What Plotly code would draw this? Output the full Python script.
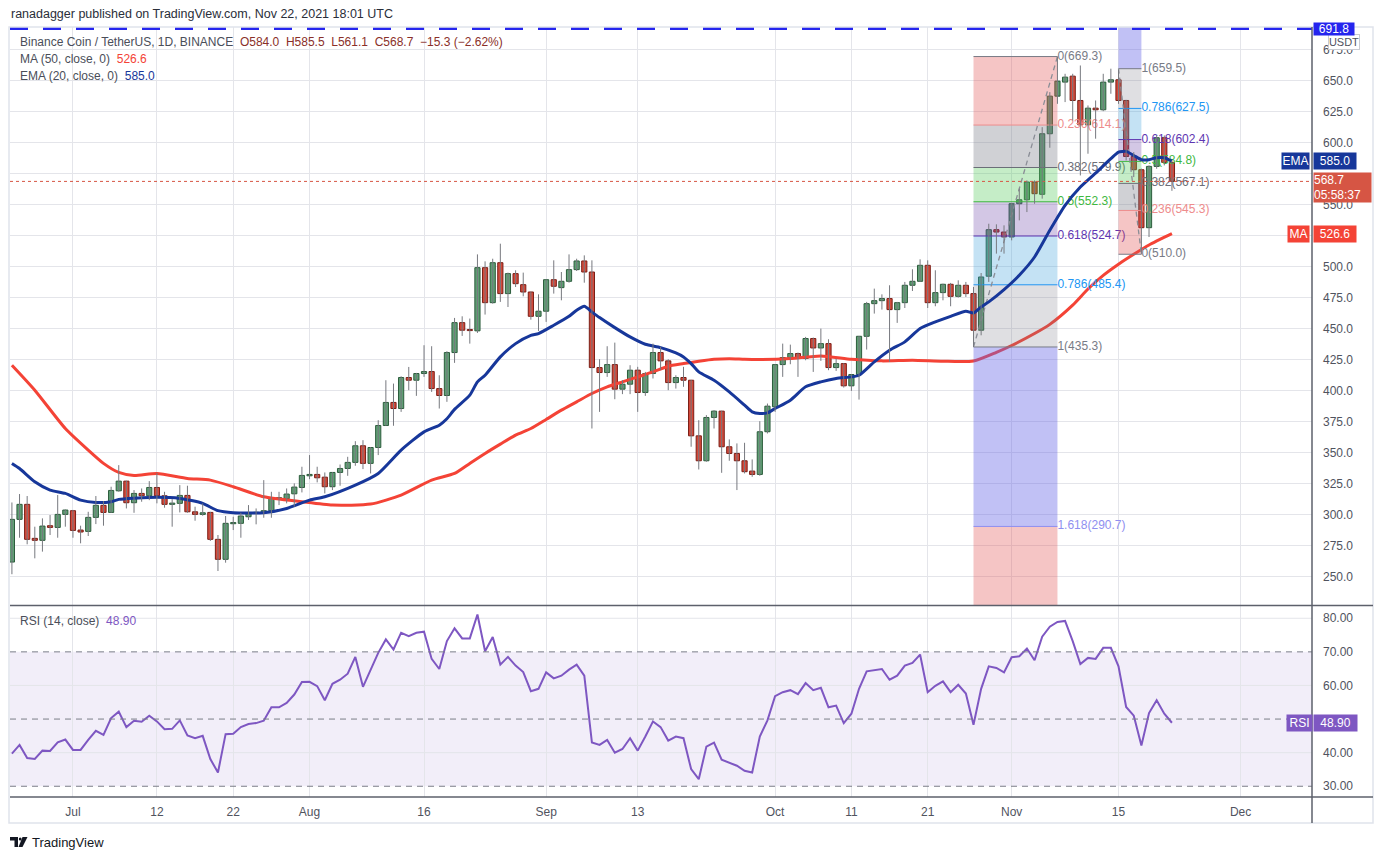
import pandas as pd
import plotly.graph_objects as go

# BNB/USDT daily candles, 23 Jun - 22 Nov 2021
dates = pd.date_range("2021-06-23", "2021-11-22", freq="D")

opens = [
    262.0, 296.4, 308.5, 281.1, 279.5, 291.3, 289.9, 300.4, 303.4, 287.8,
    286.7, 298.0, 307.7, 302.0, 319.4, 327.2, 309.8, 317.3, 315.4, 322.1,
    315.4, 308.5, 309.3, 315.7, 302.5, 300.4, 302.0, 280.3, 264.2, 292.9,
    293.2, 298.5, 301.2, 301.7, 303.4, 313.0, 313.0, 317.0, 322.1, 331.5,
    332.6, 330.4, 322.7, 334.2, 337.4, 342.3, 355.7, 341.5, 354.3, 372.0,
    390.6, 385.7, 410.7, 408.5, 413.9, 415.5, 401.8, 396.2, 430.8, 454.9,
    448.8, 448.3, 499.2, 471.0, 503.2, 478.3, 494.4, 485.5, 479.6, 460.0,
    464.1, 489.5, 483.1, 488.2, 497.6, 504.6, 495.7, 418.7, 414.7, 421.1,
    401.3, 405.3, 416.6, 398.6, 413.9, 430.8, 424.1, 406.6, 410.7, 408.5,
    363.7, 343.6, 378.5, 383.6, 354.9, 349.5, 343.6, 335.3, 332.6, 367.0,
    387.1, 421.1, 426.8, 430.0, 426.0, 442.1, 434.5, 438.0, 418.7, 421.9,
    404.0, 413.1, 443.9, 470.2, 472.6, 474.3, 465.4, 471.0, 485.0, 488.2,
    501.1, 471.0, 479.1, 485.8, 476.1, 485.0, 478.3, 448.8, 492.3, 529.8,
    527.9, 523.9, 550.7, 553.9, 568.2, 558.3, 607.1, 637.4, 648.7, 653.5,
    633.9, 614.3, 627.7, 626.4, 648.7, 650.6, 633.9, 588.8, 578.1, 531.4,
    580.8, 603.9, 584.0,
]
highs = [
    310.0, 316.8, 315.2, 290.5, 297.2, 299.9, 316.0, 304.4, 304.0, 291.3,
    302.5, 315.2, 311.1, 322.7, 340.1, 327.5, 320.0, 321.3, 327.2, 333.9,
    318.6, 312.7, 324.0, 323.5, 306.6, 309.3, 302.5, 283.8, 299.1, 298.5,
    301.7, 307.9, 305.2, 328.0, 318.6, 318.6, 321.3, 325.4, 338.8, 348.2,
    338.8, 334.2, 334.5, 340.6, 346.8, 359.4, 360.2, 354.6, 376.3, 408.5,
    405.8, 411.7, 419.2, 414.4, 436.7, 435.9, 412.5, 431.9, 458.7, 460.0,
    458.2, 509.9, 504.3, 506.4, 518.5, 495.2, 497.1, 495.2, 479.9, 477.7,
    489.8, 505.1, 495.7, 509.9, 506.4, 509.1, 505.1, 425.4, 435.9, 438.8,
    408.5, 420.6, 419.3, 415.2, 438.0, 435.4, 425.4, 412.5, 419.3, 408.8,
    376.3, 380.4, 384.4, 383.9, 360.8, 357.6, 358.1, 344.7, 375.5, 389.7,
    421.4, 438.0, 437.2, 430.8, 443.4, 442.9, 450.1, 441.5, 425.9, 422.2,
    413.4, 444.2, 471.6, 482.3, 477.7, 485.0, 471.6, 487.7, 497.9, 505.9,
    505.1, 497.1, 486.3, 486.9, 489.0, 487.7, 483.7, 494.9, 534.6, 534.1,
    533.3, 551.3, 562.8, 569.5, 569.5, 612.4, 640.6, 669.3, 655.4, 655.4,
    662.1, 629.9, 633.9, 655.4, 659.5, 658.6, 634.4, 592.3, 579.0, 581.6,
    605.7, 605.7, 585.5,
]
lows = [
    252.2, 281.6, 276.3, 265.0, 270.4, 283.8, 281.6, 290.5, 281.6, 277.1,
    283.0, 292.6, 291.3, 301.7, 318.7, 305.2, 301.7, 310.6, 311.9, 309.3,
    305.8, 290.5, 302.0, 301.7, 295.3, 299.3, 279.0, 254.8, 261.5, 287.8,
    281.6, 295.9, 292.4, 297.7, 297.7, 307.9, 309.3, 306.6, 318.1, 328.8,
    326.2, 317.3, 320.0, 323.5, 331.5, 339.6, 336.9, 333.4, 348.2, 371.8,
    371.8, 383.0, 400.5, 395.9, 411.2, 399.1, 385.7, 391.1, 422.5, 444.2,
    438.0, 446.6, 461.4, 470.2, 471.6, 467.5, 483.6, 476.1, 457.3, 448.2,
    455.5, 478.3, 472.9, 487.1, 496.5, 487.1, 369.6, 383.0, 411.2, 393.2,
    397.3, 397.3, 383.0, 395.9, 409.9, 416.6, 400.5, 401.8, 403.2, 354.9,
    336.6, 342.8, 369.6, 333.9, 343.6, 320.0, 333.4, 330.7, 331.5, 365.6,
    383.0, 411.2, 421.4, 411.2, 424.6, 415.2, 424.1, 416.6, 416.0, 402.6,
    399.9, 392.9, 433.2, 462.2, 465.4, 423.3, 454.7, 466.7, 480.4, 487.7,
    466.7, 468.1, 472.9, 468.1, 475.1, 475.6, 435.3, 444.7, 487.7, 510.5,
    510.5, 521.2, 537.3, 544.0, 550.7, 554.8, 595.8, 631.2, 632.6, 617.8,
    573.5, 591.0, 603.1, 625.3, 639.3, 631.2, 585.6, 572.2, 510.0, 523.9,
    578.9, 581.6, 561.1,
]
closes = [
    296.4, 308.5, 280.3, 279.5, 291.0, 289.9, 300.4, 303.9, 287.5, 286.2,
    298.0, 307.7, 302.0, 319.7, 327.2, 309.8, 317.3, 315.4, 322.1, 315.4,
    308.5, 309.5, 315.7, 302.5, 300.4, 301.7, 280.3, 264.2, 293.2, 293.5,
    299.1, 301.2, 302.0, 303.4, 313.8, 313.8, 316.8, 322.4, 331.8, 332.6,
    329.9, 322.7, 334.2, 337.4, 342.3, 355.7, 341.5, 354.3, 372.0, 390.6,
    385.7, 410.7, 408.5, 413.9, 415.5, 401.8, 396.2, 430.8, 454.9, 448.8,
    448.5, 499.2, 471.0, 503.2, 478.3, 494.4, 486.3, 479.6, 460.0, 464.1,
    489.5, 484.2, 488.2, 497.6, 504.6, 495.7, 418.7, 414.7, 421.1, 401.3,
    405.3, 416.6, 398.6, 413.9, 430.8, 424.1, 406.6, 410.7, 408.5, 363.7,
    343.6, 378.5, 383.6, 354.9, 349.5, 343.6, 334.8, 332.6, 367.0, 387.6,
    421.1, 426.8, 430.0, 426.0, 442.1, 434.5, 438.0, 418.7, 421.9, 404.0,
    413.1, 443.9, 470.2, 472.6, 474.3, 465.4, 471.0, 485.0, 488.2, 501.1,
    471.0, 479.1, 485.8, 476.1, 485.0, 478.3, 448.8, 491.7, 529.8, 527.9,
    523.9, 550.7, 553.9, 568.2, 558.8, 607.1, 637.4, 649.5, 652.7, 633.9,
    614.3, 627.7, 626.4, 648.7, 650.6, 633.9, 588.8, 578.1, 531.4, 580.8,
    603.9, 584.0, 568.7,
]
rsi = [
    39.7, 42.3, 38.4, 38.1, 40.6, 40.5, 43.1, 43.9, 40.8, 40.8,
    43.8, 46.5, 45.3, 50.3, 52.2, 47.6, 49.5, 49.2, 51.0, 49.3,
    47.0, 47.1, 49.6, 45.1, 44.3, 45.0, 38.1, 34.1, 45.5, 45.6,
    47.6, 48.5, 48.8, 49.5, 53.5, 53.5, 54.8, 57.3, 61.0, 61.1,
    59.8, 55.6, 60.5, 61.7, 63.5, 68.5, 59.6, 64.7, 69.7, 73.7,
    70.7, 75.7, 74.7, 75.7, 76.0, 67.9, 64.9, 73.2, 77.0, 74.0,
    74.0, 81.1, 70.2, 74.4, 66.2, 68.5, 65.9, 64.0, 58.3, 59.0,
    63.9, 62.1, 62.9, 64.7, 66.2, 62.9, 43.0, 42.3, 43.8, 40.0,
    41.1, 44.3, 40.6, 44.8, 49.3, 47.6, 43.6, 44.8, 44.3, 35.1,
    32.1, 41.8, 43.0, 37.9, 36.9, 36.1, 34.6, 34.1, 44.8, 49.6,
    56.8, 58.0, 58.6, 57.4, 60.7, 58.6, 59.3, 53.5, 54.0, 48.8,
    51.6, 59.0, 64.2, 64.5, 64.9, 61.7, 62.9, 65.9, 66.7, 69.2,
    58.0, 59.9, 61.2, 58.0, 60.2, 57.6, 48.3, 59.0, 65.7, 65.2,
    63.9, 68.4, 68.7, 71.0, 67.5, 74.5, 77.5, 78.9, 79.2, 73.2,
    66.4, 68.2, 67.9, 71.2, 71.2, 65.7, 53.6, 51.0, 42.1, 51.8,
    55.6, 51.6, 48.9,
]

# moving averages at these candle numbers (1 = 23 Jun)
ma_days = [1, 4, 8, 11, 13, 15, 17, 20, 24, 27, 30, 34, 39, 43, 48, 52, 56, 59, 61, 63,
           65, 67, 69, 71, 73, 75, 77, 79, 81, 83, 85, 87, 89, 91, 93, 95, 97, 99, 103, 107,
           111, 115, 119, 123, 127, 130, 132, 135, 137, 140, 142, 144, 146, 148, 150, 153]
ma_vals = [420.6, 400.5, 369.6, 352.2, 341.5, 334.2, 331.8, 333.4, 329.4, 328.0,
           322.7, 314.6, 310.6, 307.9, 308.7, 316.0, 328.0, 333.4, 341.5, 349.5,
           357.0, 364.3, 369.6, 376.9, 384.4, 391.1, 397.8, 403.2, 407.2, 411.2,
           415.2, 419.8, 421.9, 423.8, 425.4, 425.9, 425.4, 425.2, 426.0, 428.1,
           425.4, 424.1, 424.6, 423.8, 424.0, 431.0, 436.5, 446.1, 453.5, 469.0,
           482.0, 493.0, 502.0, 510.0, 517.5, 526.6]
ema_days = [1, 2, 4, 6, 8, 10, 12, 14, 15, 19, 23, 26, 28, 30, 34, 37, 40, 42, 46, 49,
            52, 55, 57, 58, 59, 61, 62, 63, 65, 67, 69, 70, 72, 74, 75, 76, 77, 78, 80, 82,
            84, 86, 88, 89, 90, 91, 93, 95, 97, 98, 99, 100, 101, 103, 105, 107, 109, 111, 112, 114,
            116, 118, 120, 122, 124, 126, 127, 128, 129, 131, 133, 135, 137, 139, 141, 143, 145, 146, 147, 148,
            149, 150, 151, 152, 153]
ema_vals = [341.5, 337.4, 326.7, 320.0, 317.3, 311.9, 310.0, 310.6, 312.5, 314.1,
            313.3, 309.3, 303.4, 301.8, 301.8, 305.2, 311.9, 314.6, 324.0, 333.4,
            352.2, 366.9, 372.3, 377.5, 385.0, 396.5, 407.2, 412.5, 427.3, 438.0,
            444.7, 446.1, 452.8, 460.0, 464.9, 468.1, 463.5, 459.0, 450.9, 443.4,
            437.5, 434.8, 430.5, 427.3, 421.9, 415.2, 408.5, 399.1, 388.4, 383.0,
            381.7, 382.2, 385.7, 392.4, 403.2, 407.2, 409.9, 411.2, 412.5, 423.3,
            432.7, 439.4, 450.1, 455.5, 460.0, 464.1, 462.7, 467.5, 471.6, 481.5,
            493.1, 507.8, 529.3, 549.4, 564.2, 575.4, 587.0, 592.3, 592.9, 589.6,
            586.2, 586.2, 587.8, 587.8, 585.0]

# fib retracement drawings
fib1_x = ["2021-10-27", "2021-11-07"]
fib1_levels = [0, 0.236, 0.382, 0.5, 0.618, 0.786, 1, 1.618, 2.618]
fib1_prices = [669.3, 614.1, 579.9, 552.3, 524.7, 485.4, 435.3, 290.7, 56.7]
fib2_x = ["2021-11-15", "2021-11-18"]
fib2_levels = [0, 0.236, 0.382, 0.5, 0.618, 0.786, 1, 1.618]
fib2_prices = [510.0, 545.3, 567.1, 584.8, 602.4, 627.5, 659.5, 751.9]
hline_price = 691.8

tick_dates = ["2021-07-01", "2021-07-12", "2021-07-22", "2021-08-01", "2021-08-16",
              "2021-09-01", "2021-09-13", "2021-10-01", "2021-10-11", "2021-10-21",
              "2021-11-01", "2021-11-15", "2021-12-01"]
tick_text = ["Jul", "12", "22", "Aug", "16", "Sep", "13", "Oct", "11", "21", "Nov", "15", "Dec"]
price_ticks = [250, 275, 300, 325, 350, 375, 400, 425, 450, 475, 500, 525, 550, 575, 600, 625, 650, 675]
rsi_ticks = [30, 40, 50, 60, 70, 80]
# labels hidden behind the last-value badges on the reference
hidden_price_ticks = [525, 575]
hidden_rsi_ticks = [50]

x_range = ["2021-06-22 18:00", "2021-12-10 08:30"]
price_range = [227.0, 693.1]
rsi_range = [26.8, 83.8]

# --- page geometry (pixels) ---
W, H = 1384, 860
ML, MR, MT, MB = 10, 72, 27, 63
PW, PH = W - ML - MR, H - MT - MB
split = (H - MB - 605.5) / PH

def px(x):
    return (x - ML) / PW

def py(y):
    return (H - MB - y) / PH

FONT = "Liberation Sans, Arial, sans-serif"
GRID = "#e4e5ea"
AXIS = "#5d606b"
TXT = "#4a4e59"
GREEN, GREEN_LINE = "#5f9e74", "#2c5c3c"
RED, RED_LINE = "#d4493a", "#7a1e16"
WICK = "#77797f"
EMA_C, MA_C, RSI_C = "#17379a", "#f44336", "#7e57c2"
PRICE_C = "#d65544"

band_colors = {0: "rgba(225,80,80,0.33)", 0.236: "rgba(120,123,134,0.35)",
               0.382: "rgba(76,200,80,0.32)", 0.5: "rgba(110,70,170,0.30)",
               0.618: "rgba(60,160,220,0.30)", 0.786: "rgba(120,123,134,0.24)",
               1: "rgba(100,100,230,0.40)", 1.618: "rgba(225,80,80,0.33)"}
level_colors = {0: "#787b86", 0.236: "#ee8c8c", 0.382: "#6b6e78", 0.5: "#3fb83f",
                0.618: "#5e35b1", 0.786: "#2196f3", 1: "#787b86", 1.618: "#8f8ff0", 2.618: "#ee8c8c"}

fig = go.Figure()

# MA 50 (under the fib fills)
fig.add_trace(go.Scatter(x=[dates[d - 1] for d in ma_days], y=ma_vals, mode="lines",
                         line=dict(color=MA_C, width=3, shape="spline", smoothing=0.6),
                         hoverinfo="skip"))

# fib boxes, level lines and labels
for fx, levels, prices in [(fib1_x, fib1_levels, fib1_prices), (fib2_x, fib2_levels, fib2_prices)]:
    for i in range(len(levels) - 1):
        lo, hi = prices[i], prices[i + 1]
        fig.add_trace(go.Scatter(x=[fx[0], fx[1], fx[1], fx[0], fx[0]], y=[lo, lo, hi, hi, lo],
                                 mode="lines", fill="toself", fillcolor=band_colors[levels[i]],
                                 line=dict(width=0), hoverinfo="skip"))
    shown = [(l, p) for l, p in zip(levels, prices) if price_range[0] < p < price_range[1]]
    for lvl, p in shown:
        fig.add_trace(go.Scatter(x=fx, y=[p, p], mode="lines",
                                 line=dict(color=level_colors[lvl], width=1), hoverinfo="skip"))
    fig.add_trace(go.Scatter(x=[fx[1]] * len(shown), y=[p for _, p in shown], mode="text",
                             text=[f"{l:g}({p:.1f})" for l, p in shown],
                             textposition="middle right",
                             textfont=dict(family=FONT, size=12, color=[level_colors[l] for l, _ in shown]),
                             hoverinfo="skip"))

# dashed trend lines of the two fib drawings
fig.add_trace(go.Scatter(x=fib1_x, y=[fib1_prices[6], fib1_prices[0]], mode="lines",
                         line=dict(color="#8a8d96", width=1.3, dash="5px,4px"), hoverinfo="skip"))
fig.add_trace(go.Scatter(x=fib2_x, y=[fib2_prices[6], fib2_prices[0]], mode="lines",
                         line=dict(color="#8a8d96", width=1.3, dash="5px,4px"), hoverinfo="skip"))

# EMA 20
fig.add_trace(go.Scatter(x=[dates[d - 1] for d in ema_days], y=ema_vals, mode="lines",
                         line=dict(color=EMA_C, width=3, shape="spline", smoothing=0.6),
                         hoverinfo="skip"))

# current price dotted line and the blue horizontal ray
fig.add_trace(go.Scatter(x=x_range, y=[closes[-1]] * 2, mode="lines",
                         line=dict(color=PRICE_C, width=1, dash="dot"), hoverinfo="skip"))
fig.add_trace(go.Scatter(x=x_range, y=[hline_price] * 2, mode="lines",
                         line=dict(color="#2525ee", width=3, dash="18px,15px"), hoverinfo="skip"))

# candles: grey wicks, then bodies as bars
wx, wy = [], []
for d, lo, hi in zip(dates, lows, highs):
    wx += [d, d, None]
    wy += [lo, hi, None]
fig.add_trace(go.Scatter(x=wx, y=wy, mode="lines", line=dict(color=WICK, width=1), hoverinfo="skip"))

up = [c >= o for o, c in zip(opens, closes)]
fig.add_trace(go.Bar(
    x=dates,
    y=[max(abs(c - o), 0.9) for o, c in zip(opens, closes)],
    base=[min(o, c) for o, c in zip(opens, closes)],
    width=0.68 * 86400000,
    marker=dict(color=[GREEN if u else RED for u in up],
                line=dict(color=[GREEN_LINE if u else RED_LINE for u in up], width=1)),
    hoverinfo="skip",
))

# RSI pane
fig.add_trace(go.Scatter(x=dates, y=rsi, mode="lines", line=dict(color=RSI_C, width=2),
                         yaxis="y2", hoverinfo="skip"))

shapes = [
    dict(type="rect", xref="paper", yref="y2", x0=0, x1=1, y0=30, y1=70,
         fillcolor="rgba(126,87,194,0.10)", line=dict(width=0), layer="below"),
]
for v in [40, 60, 80]:
    shapes.append(dict(type="line", xref="paper", yref="y2", x0=0, x1=1, y0=v, y1=v,
                       line=dict(color=GRID, width=1), layer="below"))
for v in [30, 50, 70]:
    shapes.append(dict(type="line", xref="paper", yref="y2", x0=0, x1=1, y0=v, y1=v,
                       line=dict(color="#7b7e88", width=1, dash="6px,5px")))
# frame, pane separator, axis lines
shapes += [
    dict(type="rect", xref="paper", yref="paper", x0=px(9), x1=px(1373), y0=py(823), y1=py(27),
         line=dict(color="#e0e3eb", width=1.5)),
    dict(type="line", xref="paper", yref="paper", x0=px(10), x1=px(1373), y0=py(605.5), y1=py(605.5),
         line=dict(color=AXIS, width=1.5)),
    dict(type="line", xref="paper", yref="paper", x0=px(10), x1=px(1373), y0=py(797), y1=py(797),
         line=dict(color=AXIS, width=1.5)),
    dict(type="line", xref="paper", yref="paper", x0=1, x1=1, y0=py(823), y1=py(27),
         line=dict(color=AXIS, width=1.5)),
]
# TradingView logo mark
shapes += [
    dict(type="path", xref="paper", yref="paper", fillcolor="#131722", line=dict(width=0),
         path=f"M {px(10)} {py(837)} L {px(18)} {py(837)} L {px(18)} {py(847)} L {px(14.5)} {py(847)} "
              f"L {px(14.5)} {py(840.5)} L {px(10)} {py(840.5)} Z"),
    dict(type="circle", xref="paper", yref="paper", fillcolor="#131722", line=dict(width=0),
         x0=px(18.8), x1=px(21.6), y0=py(840.6), y1=py(837.6)),
    dict(type="path", xref="paper", yref="paper", fillcolor="#131722", line=dict(width=0),
         path=f"M {px(22.5)} {py(837)} L {px(27.5)} {py(837)} L {px(22.5)} {py(847)} L {px(18.5)} {py(847)} Z"),
]


def note(text, x, y, color=TXT, size=12, xref="paper", yref="paper", **kw):
    return dict(text=text, x=x, y=y, xref=xref, yref=yref, showarrow=False,
                xanchor=kw.pop("xanchor", "left"), yanchor=kw.pop("yanchor", "middle"),
                font=dict(family=FONT, size=size, color=color), **kw)


chg = closes[-1] - closes[-2]
annotations = [
    note("ranadagger published on TradingView.com, Nov 22, 2021 18:01 UTC", px(9), py(14),
         color="#2a2e39", size=12.5),
    note("Binance Coin / TetherUS, 1D, BINANCE&nbsp; "
         f"<span style='color:#8a2f29'>O{opens[-1]:.1f}&nbsp; H{highs[-1]:.1f}&nbsp; "
         f"L{lows[-1]:.1f}&nbsp; C{closes[-1]:.1f}&nbsp; {chg:+.1f} ({chg / closes[-2] * 100:+.2f}%)</span>"
         .replace("-", "\u2212"),
         px(18), py(42)),
    note(f"MA (50, close, 0)&nbsp; <span style='color:{MA_C}'>{ma_vals[-1]:.1f}</span>", px(18), py(59)),
    note(f"EMA (20, close, 0)&nbsp; <span style='color:{EMA_C}'>{ema_vals[-1]:.1f}</span>", px(18), py(76)),
    note(f"RSI (14, close)&nbsp; <span style='color:{RSI_C}'>{rsi[-1]:.2f}</span>", px(18), py(621)),
    note("TradingView", px(30), py(842), color="#131722", size=13),
    # right-axis badges
    note("USDT", px(1328), py(42.5), color="#50535e", size=11, width=30, height=14,
         bgcolor="white", bordercolor="#c9cbd1", borderwidth=1, borderpad=0, align="center"),
    note(f"{hline_price:.1f}", px(1313), py(29), color="white", width=40, height=12,
         bgcolor="#2525ee", borderpad=0, align="center"),
    note("EMA", px(1281), ema_vals[-1], yref="y", color="white", width=27, height=16,
         bgcolor=EMA_C, borderpad=0, align="center"),
    note(f"{ema_vals[-1]:.1f}", px(1313), ema_vals[-1], yref="y", color="white", width=42, height=16,
         bgcolor=EMA_C, borderpad=0, align="center"),
    note(f"{closes[-1]:.1f}<br>05:58:37", px(1313), py(187.5), color="white", width=57, height=29,
         bgcolor=PRICE_C, borderpad=0, align="left"),
    note("MA", px(1287), ma_vals[-1], yref="y", color="white", width=21, height=16,
         bgcolor=MA_C, borderpad=0, align="center"),
    note(f"{ma_vals[-1]:.1f}", px(1313), ma_vals[-1], yref="y", color="white", width=42, height=16,
         bgcolor=MA_C, borderpad=0, align="center"),
    note("RSI", px(1286), rsi[-1], yref="y2", color="white", width=25, height=16,
         bgcolor=RSI_C, borderpad=0, align="center"),
    note(f"{rsi[-1]:.2f}", px(1312.5), rsi[-1], yref="y2", color="white", width=43, height=16,
         bgcolor=RSI_C, borderpad=0, align="center"),
]

fig.update_layout(
    width=W, height=H,
    margin=dict(l=ML, r=MR, t=MT, b=MB),
    paper_bgcolor="white", plot_bgcolor="white",
    showlegend=False, barmode="overlay",
    font=dict(family=FONT, size=12, color=TXT),
    xaxis=dict(type="date", range=x_range, domain=[0, 1], anchor="y2",
               tickvals=tick_dates, ticktext=tick_text, showgrid=True, gridcolor=GRID,
               ticks="", ticklabelstandoff=6, tickfont=dict(size=12, color="#50535e"),
               zeroline=False, showline=False, rangeslider=dict(visible=False)),
    yaxis=dict(domain=[split, 1], range=price_range, side="right", anchor="x",
               tickvals=price_ticks,
               ticktext=["" if v in hidden_price_ticks else f"{v:.1f}" for v in price_ticks],
               showgrid=True, gridcolor=GRID, zeroline=False, ticks="",
               ticklabelstandoff=10, tickfont=dict(size=12, color="#50535e")),
    yaxis2=dict(domain=[0, split], range=rsi_range, side="right", anchor="x",
                tickvals=rsi_ticks,
                ticktext=["" if v in hidden_rsi_ticks else f"{v:.2f}" for v in rsi_ticks],
                showgrid=False, zeroline=False, ticks="",
                ticklabelstandoff=10, tickfont=dict(size=12, color="#50535e")),
    shapes=shapes,
    annotations=annotations,
)

fig.write_html("out.html", config={"displayModeBar": False},
               post_script="document.body.style.margin='0px';")
